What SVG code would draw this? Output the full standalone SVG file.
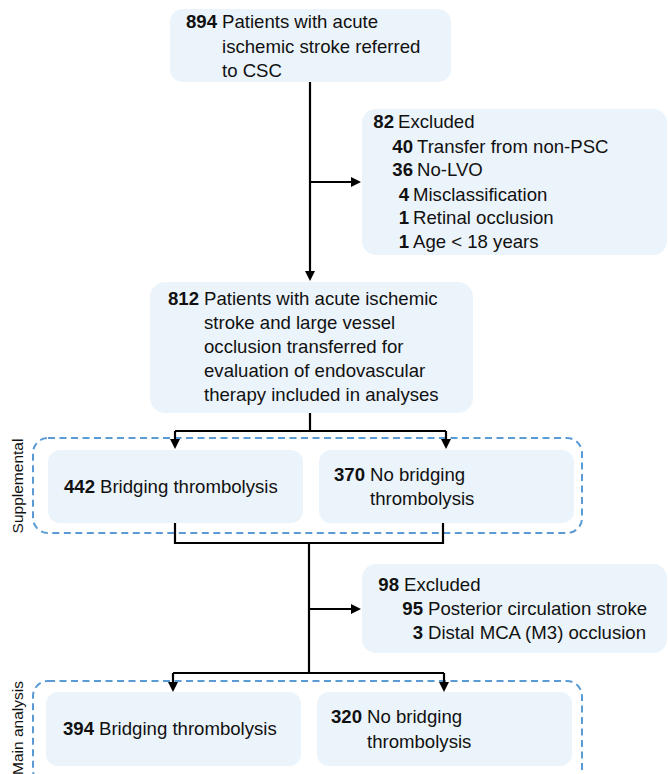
<svg xmlns="http://www.w3.org/2000/svg" width="668" height="774" viewBox="0 0 668 774">
<defs>
<style>
.box{fill:#ECF4FB;stroke:none}
.grp{fill:none;stroke:#5B9BD5;stroke-width:2;stroke-dasharray:7 4.5}
.t{font-family:"Liberation Sans",Arial,sans-serif;font-size:18.6px;fill:#111}
.n{font-family:"Liberation Sans",Arial,sans-serif;font-size:18.6px;fill:#111;font-weight:bold;text-anchor:end}
.lbl{font-family:"Liberation Sans",Arial,sans-serif;font-size:15.5px;fill:#111}
.c{fill:none;stroke:#000;stroke-width:2.2}
</style>
<marker id="ah" markerUnits="userSpaceOnUse" markerWidth="11" markerHeight="11" refX="6" refY="5" orient="auto">
<path d="M0,0 L10,5 L0,10 Z" fill="#000"/>
</marker>
</defs>

<g id="group-supplemental">
<rect class="grp" x="33" y="438" width="549" height="95" rx="15"/>
<text class="lbl" transform="translate(23,486) rotate(-90)" text-anchor="middle">Supplemental</text>
</g>
<g id="group-main">
<rect class="grp" x="33" y="681" width="549" height="104" rx="15"/>
<text class="lbl" transform="translate(23,728) rotate(-90)" text-anchor="middle">Main analysis</text>
</g>

<g id="connectors">
<path class="c" d="M310,82 V277" marker-end="url(#ah)"/>
<path class="c" d="M310,182 H357" marker-end="url(#ah)"/>
<path class="c" d="M310,413 V431"/>
<path class="c" d="M175,431 H446"/>
<path class="c" d="M175,431 V445" marker-end="url(#ah)"/>
<path class="c" d="M446,431 V445" marker-end="url(#ah)"/>
<path class="c" d="M175,523 V543 H443 V523"/>
<path class="c" d="M309,543 V673"/>
<path class="c" d="M309,609 H357" marker-end="url(#ah)"/>
<path class="c" d="M173,673 H444"/>
<path class="c" d="M173,673 V688" marker-end="url(#ah)"/>
<path class="c" d="M444,673 V688" marker-end="url(#ah)"/>
</g>

<g id="n894">
<rect class="box" x="170" y="9" width="281" height="73" rx="13"/>
<text class="n" x="217" y="28">894</text>
<text class="t" x="222" y="28">Patients with acute</text>
<text class="t" x="222" y="53">ischemic stroke referred</text>
<text class="t" x="222" y="77">to CSC</text>
</g>

<g id="excl82">
<rect class="box" x="362" y="109" width="305" height="146" rx="14"/>
<text class="n" x="394" y="128">82</text>
<text class="t" x="398" y="128">Excluded</text>
<text class="n" x="413" y="152.5">40</text>
<text class="t" x="417" y="152.5">Transfer from non-PSC</text>
<text class="n" x="413" y="176">36</text>
<text class="t" x="417" y="176">No-LVO</text>
<text class="n" x="409" y="200.5">4</text>
<text class="t" x="413" y="200.5">Misclassification</text>
<text class="n" x="409" y="224">1</text>
<text class="t" x="413" y="224">Retinal occlusion</text>
<text class="n" x="409" y="247.5">1</text>
<text class="t" x="413" y="247.5">Age &lt; 18 years</text>
</g>

<g id="n812">
<rect class="box" x="150" y="282" width="323" height="131" rx="15"/>
<text class="n" x="199" y="305">812</text>
<text class="t" x="204" y="305">Patients with acute ischemic</text>
<text class="t" x="204" y="329">stroke and large vessel</text>
<text class="t" x="204" y="353">occlusion transferred for</text>
<text class="t" x="204" y="377">evaluation of endovascular</text>
<text class="t" x="204" y="401">therapy included in analyses</text>
</g>

<g id="n442">
<rect class="box" x="48" y="450" width="255" height="73" rx="12"/>
<text class="n" x="95" y="493">442</text>
<text class="t" x="100" y="493">Bridging thrombolysis</text>
</g>

<g id="n370">
<rect class="box" x="319" y="450" width="255" height="73" rx="12"/>
<text class="n" x="365" y="481">370</text>
<text class="t" x="370" y="481">No bridging</text>
<text class="t" x="370" y="505">thrombolysis</text>
</g>

<g id="excl98">
<rect class="box" x="362" y="564" width="305" height="89" rx="14"/>
<text class="n" x="399" y="591">98</text>
<text class="t" x="404" y="591">Excluded</text>
<text class="n" x="423" y="615">95</text>
<text class="t" x="428" y="615">Posterior circulation stroke</text>
<text class="n" x="423" y="639">3</text>
<text class="t" x="428" y="639">Distal MCA (M3) occlusion</text>
</g>

<g id="n394">
<rect class="box" x="46" y="692" width="255" height="74" rx="12"/>
<text class="n" x="94" y="735">394</text>
<text class="t" x="99" y="735">Bridging thrombolysis</text>
</g>

<g id="n320">
<rect class="box" x="317" y="692" width="255" height="74" rx="12"/>
<text class="n" x="362" y="723">320</text>
<text class="t" x="367" y="723">No bridging</text>
<text class="t" x="367" y="748">thrombolysis</text>
</g>
</svg>
